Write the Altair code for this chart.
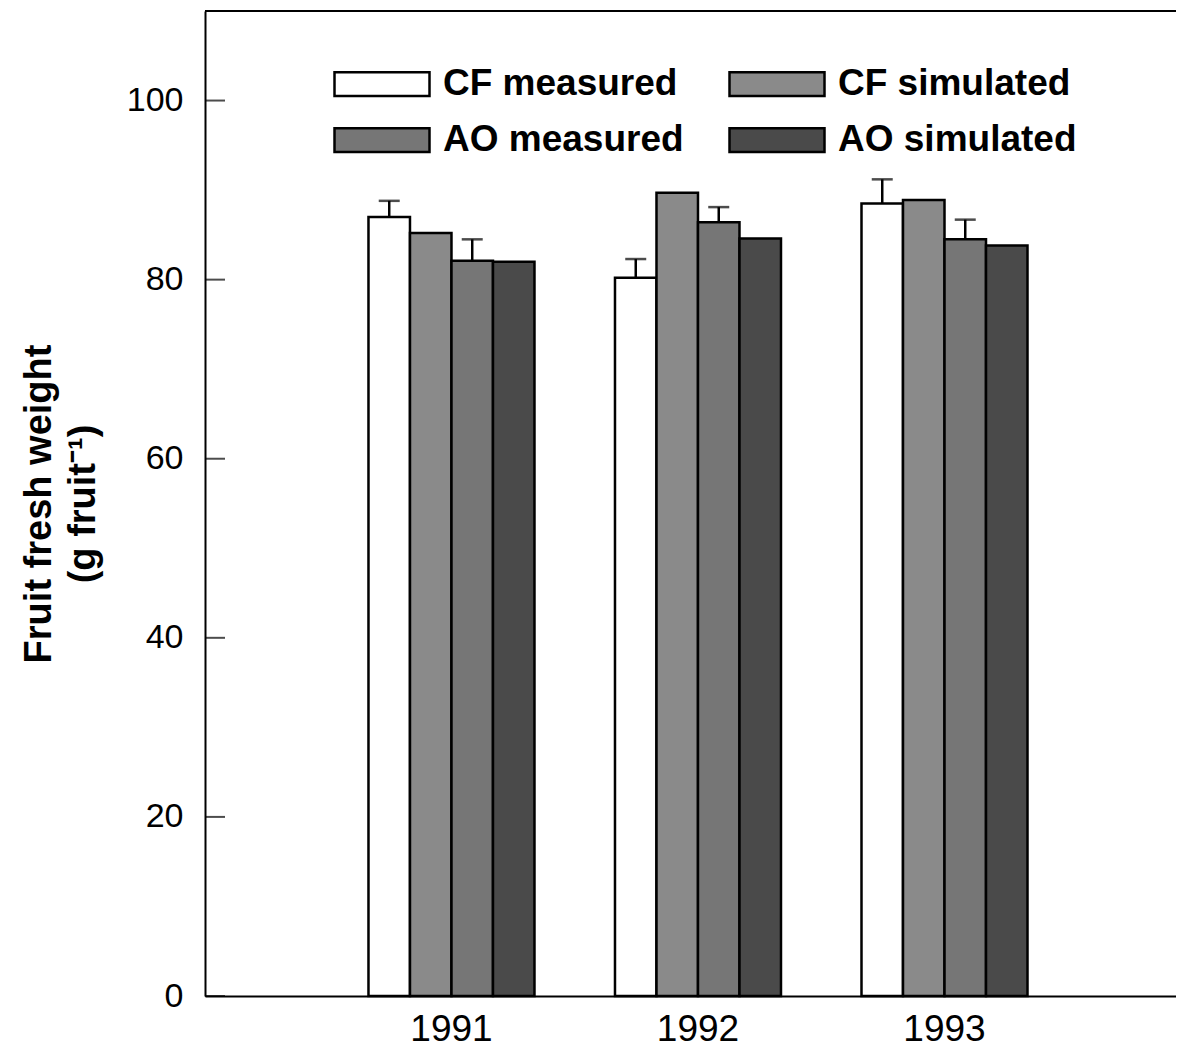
import altair as alt
import pandas as pd

# ---- data ----
years = ["1991", "1992", "1993"]
series = ["CF measured", "CF simulated", "AO measured", "AO simulated"]
cf_measured = [87.0, 80.2, 88.5]
cf_measured_err = [1.8, 2.1, 2.7]
cf_simulated = [85.2, 89.7, 88.9]
ao_measured = [82.1, 86.4, 84.5]
ao_measured_err = [2.4, 1.7, 2.2]
ao_simulated = [82.0, 84.6, 83.8]
y_ticks = [0, 20, 40, 60, 80, 100]
fills = ["#ffffff", "#8a8a8a", "#767676", "#4a4a4a"]

values = [cf_measured, cf_simulated, ao_measured, ao_simulated]
errors = [cf_measured_err, None, ao_measured_err, None]
rows = []
for s, vals, errs in zip(series, values, errors):
    for j, yr in enumerate(years):
        r = {"year": yr, "series": s, "value": vals[j]}
        if errs is not None:
            r["err"] = errs[j]
        rows.append(r)
df = pd.DataFrame(rows)
err_df = df.dropna(subset=["err"]).copy()
tick_df = pd.DataFrame({"t": y_ticks})

FONT = "Liberation Sans"
W, H = 971, 985

x_enc = alt.X(
    "year:N",
    sort=years,
    scale=alt.Scale(paddingInner=0.3266, paddingOuter=0.6328, align=0.524),
    axis=alt.Axis(
        title=None, labelAngle=0, ticks=False, tickSize=0, labelPadding=15,
        labelFontSize=37, labelFont=FONT, labelColor="black",
        domainColor="black", domainWidth=2,
    ),
)
y_scale = alt.Scale(domain=[0, 110], nice=False)
x_off = alt.XOffset("series:N", sort=series, scale=alt.Scale(paddingInner=0, paddingOuter=0))

bars = alt.Chart(df).mark_bar(stroke="black", strokeWidth=2.5).encode(
    x=x_enc,
    xOffset=x_off,
    y=alt.Y(
        "value:Q",
        scale=y_scale,
        axis=alt.Axis(
            values=y_ticks, ticks=False, tickSize=0, grid=False, labelPadding=22,
            labelFontSize=34, labelFont=FONT, labelColor="black",
            domainColor="black", domainWidth=2,
            title=["Fruit fresh weight", "(g fruit\u207b\u00b9)"],
            titleFont=FONT, titleFontSize=38, titleFontWeight="bold",
            titleColor="black", titleLineHeight=44, titlePadding=24,
        ),
    ),
    fill=alt.Fill(
        "series:N",
        scale=alt.Scale(domain=series, range=fills),
        legend=alt.Legend(
            title=None, orient="none", legendX=128, legendY=55, columns=2,
            direction="horizontal", clipHeight=36,
            symbolType="M-1,-0.25H1V0.25H-1Z", symbolSize=9025,
            symbolStrokeColor="black", symbolStrokeWidth=2.5, symbolOpacity=1,
            labelFont=FONT, labelFontSize=37, labelFontWeight="bold",
            labelColor="black", labelOffset=12, rowPadding=19,
            columnPadding=44, padding=0, labelLimit=400,
        ),
    ),
)

stems = alt.Chart(err_df).transform_calculate(top="datum.value + datum.err").mark_rule(
    color="black", strokeWidth=2.5
).encode(
    x=alt.X("year:N", sort=years),
    xOffset=alt.XOffset("series:N", sort=series),
    y=alt.Y("value:Q", scale=y_scale),
    y2="top:Q",
)

caps = alt.Chart(err_df).transform_calculate(top="datum.value + datum.err").mark_tick(
    color="black", thickness=2.5, size=21, orient="horizontal"
).encode(
    x=alt.X("year:N", sort=years),
    xOffset=alt.XOffset("series:N", sort=series),
    y=alt.Y("top:Q", scale=y_scale),
)

inner_ticks = alt.Chart(tick_df).mark_tick(
    color="black", thickness=2, size=20, orient="horizontal"
).encode(
    y=alt.Y("t:Q", scale=y_scale),
    x=alt.value(10),
)

top_frame = alt.Chart(pd.DataFrame({"a": [0]})).mark_rule(color="black", strokeWidth=2).encode(
    y=alt.value(0), x=alt.value(0), x2=alt.value(W)
)

chart = alt.layer(bars, stems, caps, inner_ticks, top_frame).properties(
    width=W, height=H,
    autosize=alt.AutoSizeParams(type="none"),
    padding={"left": 197, "top": 3, "right": 0, "bottom": 56},
).configure_view(stroke=None).configure(background="white")

chart.save("out.html", embed_options={"renderer": "svg", "actions": False})
